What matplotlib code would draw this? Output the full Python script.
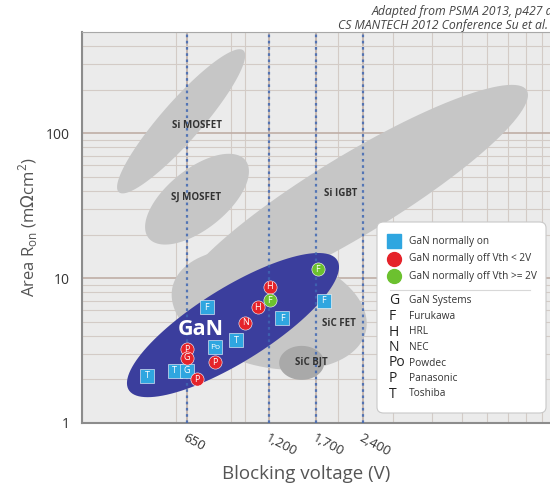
import numpy as np
import matplotlib
matplotlib.use("Agg")
import matplotlib.pyplot as plt
from matplotlib.patches import FancyBboxPatch
from matplotlib.lines import Line2D

plt.rcParams['font.family'] = ['Open Sans', 'DejaVu Sans']

# Device points: blocking voltage (V), specific on-resistance (mOhm cm2)
volts = [486, 595, 650, 754, 801, 940, 1318, 1791,
         650, 650, 801, 704, 1005, 1100, 1202,
         1202, 1713]
ron = [2.12, 2.30, 2.30, 6.31, 3.33, 3.74, 5.27, 6.97,
       3.22, 2.82, 2.62, 2.01, 4.92, 6.28, 8.71,
       7.05, 11.5]
kind = ['on'] * 8 + ['off_lo'] * 7 + ['off_hi'] * 2
maker = ['T', 'T', 'G', 'F', 'Po', 'T', 'F', 'F',
         'P', 'G', 'P', 'P', 'N', 'H', 'H',
         'F', 'F']

# Technology regions: end points of the long axis (V, Ron) and half width
regions = ['Si MOSFET', 'SJ MOSFET', 'Si IGBT', 'SiC FET', 'SiC BJT', 'GaN']
region_v = [(394, 990), (491, 1005), (622, 8054), (586, 2450), (1290, 1800), (424, 1982)]
region_r = [(39.2, 373), (18.9, 65.1), (7.05, 198), (8.7, 4.3), (2.6, 2.6), (1.69, 13.3)]
region_w = [20, 30, 40, 58, 17, 37]
label_v = [705, 695, 2026, 2010, 1640, 721]
label_r = [113, 36.2, 38.6, 4.89, 2.63, 4.45]

marked_volts = [650, 1200, 1700, 2400]
marked_labels = ['650', '1,200', '1,700', '2,400']

companies = [('G', 'GaN Systems'), ('F', 'Furukawa'), ('H', 'HRL'), ('N', 'NEC'),
             ('Po', 'Powdec'), ('P', 'Panasonic'), ('T', 'Toshiba')]

colors = {'on': '#2fa6e0', 'off_lo': '#e5232a', 'off_hi': '#6cc12f'}
markers = {'on': 's', 'off_lo': 'o', 'off_hi': 'o'}

W, H = 550, 488
fig = plt.figure(figsize=(W / 100, H / 100), dpi=100)
fig.patch.set_facecolor('white')
ax = fig.add_axes([82 / W, 1 - 423 / H, 474 / W, 391 / H])
ax.set_xscale('log')
ax.set_yscale('log')
ax.set_xlim(300, 10000)
ax.set_ylim(1, 500)
ax.set_facecolor('#ebebeb')

# log grid, heavier on decades
ax.grid(which='minor', color='#d3cbc6', lw=0.8, zorder=0)
ax.grid(which='major', color='#bfaea6', lw=1.2, zorder=0)
ax.set_axisbelow(True)
ax.tick_params(which='both', length=0)

for s in ['left', 'bottom']:
    ax.spines[s].set_color('#8c8c8c')
    ax.spines[s].set_linewidth(1.5)
ax.spines['top'].set_color('#a8a8a8')
ax.spines['top'].set_linewidth(0.8)
ax.spines['right'].set_visible(False)


def region_polygon(v, r, half_w, n=120):
    # ellipse built in screen space so it looks straight on the log axes
    p0 = ax.transData.transform((v[0], r[0]))
    p1 = ax.transData.transform((v[1], r[1]))
    c = (p0 + p1) / 2
    d = p1 - p0
    a = np.hypot(*d) / 2
    u = d / np.hypot(*d)
    nvec = np.array([-u[1], u[0]])
    t = np.linspace(0, 2 * np.pi, n)
    pts = c + np.outer(a * np.cos(t), u) + np.outer(half_w * np.sin(t), nvec)
    return ax.transData.inverted().transform(pts)


fills = {'Si MOSFET': '#c6c6c6', 'SJ MOSFET': '#c6c6c6', 'Si IGBT': '#c6c6c6',
         'SiC FET': '#c6c6c6', 'SiC BJT': '#a9a9a9', 'GaN': '#3b3e9d'}
zs = {'Si MOSFET': 2, 'SJ MOSFET': 2, 'Si IGBT': 2, 'SiC FET': 2, 'SiC BJT': 3, 'GaN': 4}
for name, v, r, w in zip(regions, region_v, region_r, region_w):
    pts = region_polygon(v, r, w)
    ax.fill(pts[:, 0], pts[:, 1], color=fills[name], lw=0, zorder=zs[name])

for name, lv, lr in zip(regions, label_v, label_r):
    if name == 'GaN':
        ax.text(lv, lr, name, color='white', fontsize=15.5, fontweight='bold',
                ha='center', va='center', zorder=6)
    else:
        ax.text(lv, lr, name, color='#333333', fontsize=7, fontweight='bold',
                ha='center', va='center', zorder=6)

# voltage class lines
for mv in marked_volts:
    ax.axvline(mv, color='#3f67b3', lw=1.6, ls=(0, (1.2, 1.6)), alpha=0.85, zorder=5)

ax.set_xticks(marked_volts)
ax.set_xticklabels(marked_labels, rotation=-28, ha='left', va='top',
                   rotation_mode='anchor', fontsize=9.5, color='#333333')
ax.xaxis.set_minor_formatter(matplotlib.ticker.NullFormatter())
ax.set_xticks([300 * k for k in range(1, 4)] + [1000 * k for k in range(1, 11)], minor=True)
ax.xaxis.grid(True, which='minor')
ax.tick_params(axis='x', pad=6)
ax.set_yticks([1, 10, 100])
ax.set_yticklabels(['1', '10', '100'], fontsize=10, color='#333333')
ax.tick_params(axis='y', pad=9)

ax.set_xlabel('Blocking voltage (V)', fontsize=13.5, color='#555555')
ax.set_ylabel(r'Area R$_{\mathregular{on}}$ (m$\Omega$cm$^{\mathregular{2}}$)',
              fontsize=12, color='#555555')
ax.xaxis.set_label_coords((306 - 82) / 474, (423 - 474) / 391)
ax.yaxis.set_label_coords((28 - 82) / 474, (423 - 227) / 391)
ax.xaxis.label.set_va('center')
ax.yaxis.label.set_va('center')

# device markers with maker letters
for v, r, k, m in zip(volts, ron, kind, maker):
    ax.plot(v, r, marker=markers[k], ms=9.5, color=colors[k], mec='white',
            mew=0.4, ls='none', zorder=7)
    ax.text(v, r, m, color='white', fontsize=6 if len(m) > 1 else 6.5,
            ha='center', va='center', zorder=8)

# key box
tf = fig.transFigure
box = FancyBboxPatch((377 / W, 1 - 413 / H), 169 / W, 191 / H,
                     boxstyle='round,pad=0,rounding_size=0.012', transform=tf,
                     facecolor='white', edgecolor='#c8c8c8', lw=0.8, zorder=10)
fig.patches.append(box)
key_items = [('on', 'GaN normally on'), ('off_lo', 'GaN normally off Vth < 2V'),
             ('off_hi', 'GaN normally off Vth >= 2V')]
for i, (k, lab) in enumerate(key_items):
    y = 1 - (241 + 17.5 * i) / H
    fig.lines.append(Line2D([394 / W], [y], marker=markers[k], ms=10, color=colors[k],
                            ls='none', transform=tf, zorder=11))
    fig.text(409 / W, y, lab, fontsize=7.3, color='#333333', va='center', zorder=11)
fig.lines.append(Line2D([390 / W, 530 / W], [1 - 290 / H] * 2, color='#d8d8d8',
                        lw=0.8, transform=tf, zorder=11))
for i, (code, company) in enumerate(companies):
    y = 1 - (301 + 15.5 * i) / H
    fig.text(389 / W, y, code, fontsize=10, color='#222222', va='center', zorder=11)
    fig.text(409 / W, y, company, fontsize=7.3, color='#333333', va='center', zorder=11)

fig.text(372 / W, 1 - 11 / H, 'Adapted from PSMA 2013, p427 and', fontsize=8.8,
         style='italic', color='#444444', va='center')
fig.text(338 / W, 1 - 26 / H, 'CS MANTECH 2012 Conference Su et al.', fontsize=8.8,
         style='italic', color='#444444', va='center')

fig.savefig('out.png', dpi=100)
